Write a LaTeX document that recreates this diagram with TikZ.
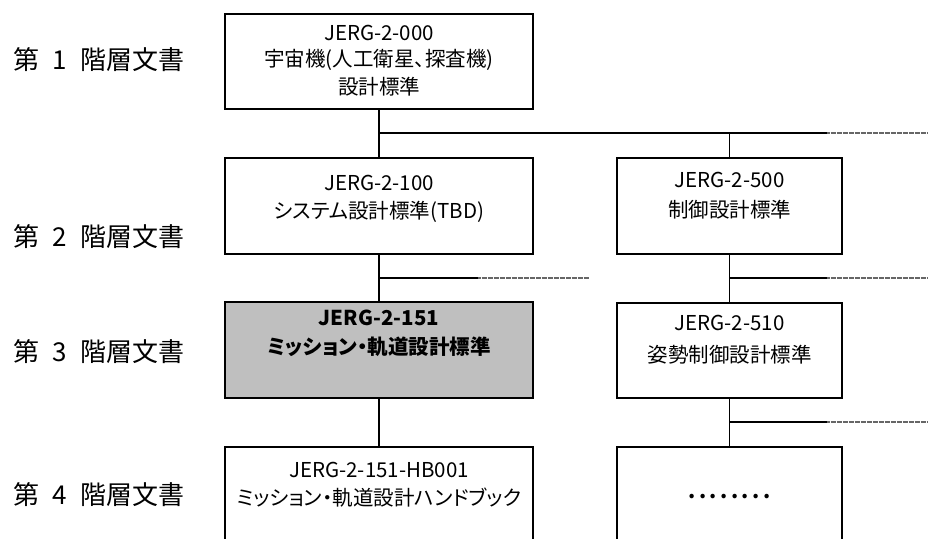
\documentclass[tikz,border=0pt]{standalone}
\usepackage{fontspec}
\newfontfamily\jp{Noto Sans CJK JP}[RawFeature=+palt]
\usepackage{tikz}
\usetikzlibrary{calc}

\begin{document}
\begin{tikzpicture}[x=1pt, y=-1pt,
		every node/.style={font=\jp},
		doc/.style={rectangle, inner sep=0pt, minimum width=308pt, minimum height=96pt, line width=1.4pt, draw=black},
		sdoc/.style={doc, minimum width=225pt},
		str/.style={inner sep=0pt, font=\jp\fontsize{20.5}{20.5}\selectfont},
		bstr/.style={str, font=\jp\bfseries\fontsize{20.5}{20.5}\selectfont},
		level/.style={inner sep=0pt, font=\jp\fontsize{26}{26}\selectfont},
		link/.style={line width=1.4pt},
		more/.style={line width=1.2pt, draw=black!60, dash pattern=on 0.6pt off 0.6pt}]
		
		\clip (0,0) rectangle (928,538);
		\fill[white] (0,0) rectangle (928,538);
		
		\node[level] (lv1) at (99, 60) {第\hspace{0.5em}1\hspace{0.5em}階層文書};
		\node[level] (lv2) at (99, 237) {第\hspace{0.5em}2\hspace{0.5em}階層文書};
		\node[level] (lv3) at (99, 352) {第\hspace{0.5em}3\hspace{0.5em}階層文書};
		\node[level] (lv4) at (99, 495) {第\hspace{0.5em}4\hspace{0.5em}階層文書};
		
		\node[doc, minimum height=95pt] (std1) at (379, 61.5) {};
		\node[str] (id1) at (379, 33) {JERG-2-000};
		\node[str] (t1) at (379, 60) {宇宙機(人工衛星、探査機)};
		\node[str] (u1) at (379, 87) {設計標準};
		
		\node[doc] (std2) at (379, 206) {};
		\node[str] (id2) at (379, 183) {JERG-2-100};
		\node[str] (t2) at (379, 212) {システム設計標準(TBD)};
		
		\node[sdoc] (std3) at (729.5, 206) {};
		\node[str] (id3) at (729.5, 180) {JERG-2-500};
		\node[str] (t3) at (729.5, 210) {制御設計標準};
		
		\node[doc, fill=black!25] (std4) at (379, 350) {};
		\node[bstr] (id4) at (379, 318) {JERG-2-151};
		\node[bstr] (t4) at (379, 347) {ミッション・軌道設計標準};
		
		\node[sdoc, minimum height=95pt] (std5) at (729.5, 350.5) {};
		\node[str] (id5) at (729.5, 323) {JERG-2-510};
		\node[str] (t5) at (729.5, 355) {姿勢制御設計標準};
		
		\node[doc] (std6) at (379, 495) {};
		\node[str] (id6) at (379, 470) {JERG-2-151-HB001};
		\node[str] (t6) at (379, 498) {ミッション・軌道設計ハンドブック};
		
		\node[sdoc] (std7) at (729.5, 495) {};
		\node[str] (t7) at (729.5, 497) {\textbf{.\,.\,.\,.\,.\,.\,.\,.}};
		
		\coordinate (j1) at (380, 133);
		\coordinate (j2) at (380, 278);
		\coordinate (j3) at (729.5, 278);
		\coordinate (j4) at (729.5, 422);
		
		\draw[link] (std1) -- (std2);
		\draw[link] (j1) -- (827, 133);
		\draw[more] (827, 133) -- (928, 133);
		\draw[link] (std3.north) -- (std3.north |- j1);
		
		\draw[link] (std2) -- (std4);
		\draw[link] (j2) -- (478, 278);
		\draw[more] (478, 278) -- (589, 278);
		
		\draw[link] (std3) -- (std5);
		\draw[link] (j3) -- (827, 278);
		\draw[more] (827, 278) -- (928, 278);
		
		\draw[link] (std4) -- (std6);
		
		\draw[link] (std5) -- (std7);
		\draw[link] (j4) -- (827, 422);
		\draw[more] (827, 422) -- (928, 422);
		
	\end{tikzpicture}
\end{document}
